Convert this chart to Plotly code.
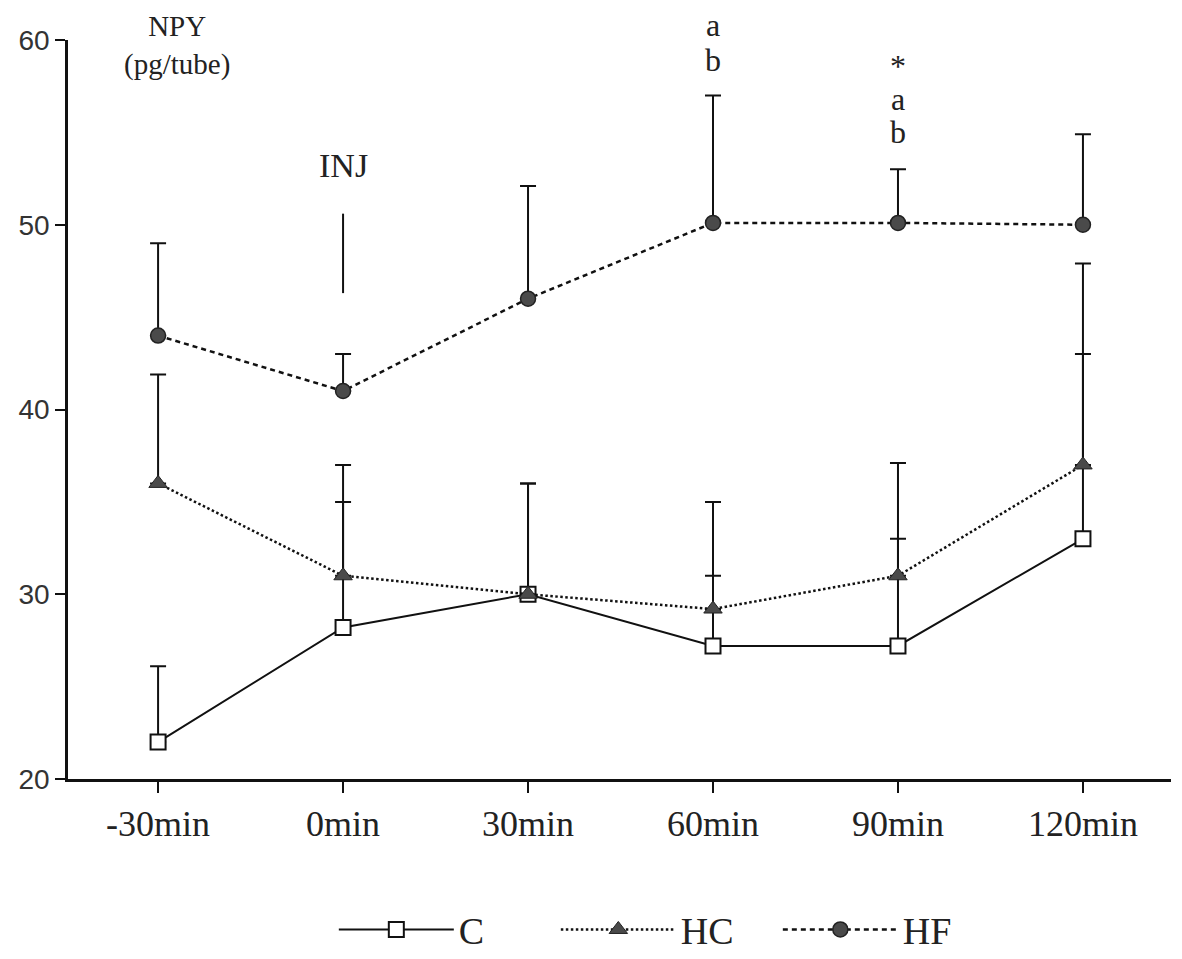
import plotly.graph_objects as go

# ---- data ----
times = ["-30min", "0min", "30min", "60min", "90min", "120min"]
c_vals = [22.0, 28.2, 30.0, 27.2, 27.2, 33.0]
c_upper = [26.1, 35.0, 36.0, 31.0, 33.0, 43.0]
hc_vals = [36.0, 31.0, 30.0, 29.2, 31.0, 37.0]
hc_upper = [41.9, 37.0, 36.0, 35.0, 37.1, 47.9]
hf_vals = [44.0, 41.0, 46.0, 50.1, 50.1, 50.0]
hf_upper = [49.0, 43.0, 52.1, 57.0, 53.0, 54.9]
y_ticks = [20, 30, 40, 50, 60]
sig_60 = ["a", "b"]
sig_90 = ["*", "a", "b"]
inj_time = "0min"
inj_range = [46.3, 50.6]

SERIF = "Liberation Serif, Times New Roman, serif"
SANS = "Liberation Sans, Arial, sans-serif"


def up_err(vals, upper):
    return [u - v for v, u in zip(vals, upper)]


fig = go.Figure()

fig.add_trace(go.Scatter(
    x=times, y=c_vals, name="C", mode="lines+markers",
    line=dict(color="#111", width=2, dash="solid"),
    marker=dict(symbol="square", size=15, color="white", line=dict(color="#111", width=2)),
    error_y=dict(type="data", symmetric=False, array=up_err(c_vals, c_upper),
                 arrayminus=[0] * 6, color="#111", thickness=2, width=8),
    cliponaxis=False,
))
fig.add_trace(go.Scatter(
    x=times, y=hc_vals, name="HC", mode="lines+markers",
    line=dict(color="#111", width=2.5, dash="2.5px,2.5px"),
    marker=dict(symbol="triangle-up", size=16, color="#4a4a4a", line=dict(color="#222", width=1)),
    error_y=dict(type="data", symmetric=False, array=up_err(hc_vals, hc_upper),
                 arrayminus=[0] * 6, color="#111", thickness=2, width=8),
    cliponaxis=False,
))
fig.add_trace(go.Scatter(
    x=times, y=hf_vals, name="HF", mode="lines+markers",
    line=dict(color="#111", width=2.5, dash="5px,4px"),
    marker=dict(symbol="circle", size=15, color="#4a4a4a", line=dict(color="#222", width=1.5)),
    error_y=dict(type="data", symmetric=False, array=up_err(hf_vals, hf_upper),
                 arrayminus=[0] * 6, color="#111", thickness=2, width=8),
    cliponaxis=False,
))

annotations = []
# y-axis title
annotations.append(dict(
    xref="paper", yref="paper", x=0.099, y=1.0433, yanchor="top", xanchor="center",
    text="NPY<br>(pg/tube)", showarrow=False, align="center",
    font=dict(family=SERIF, size=29, color="#222"),
))
# INJ label
annotations.append(dict(
    xref="x", yref="y", x=inj_time, y=inj_range[1] + 2.6, text="INJ", showarrow=False,
    font=dict(family=SERIF, size=34, color="#222"),
))
# significance letters (anchored inside range, shifted in pixels)
for i, t in enumerate(sig_60):
    annotations.append(dict(
        xref="x", yref="y", x="60min", y=58.9, yshift=35 * (len(sig_60) - 1 - i),
        text=t, showarrow=False,
        font=dict(family=SERIF, size=32, color="#222"),
    ))
for i, t in enumerate(sig_90):
    annotations.append(dict(
        xref="x", yref="y", x="90min", y=58.6 - 1.8 * i, text=t, showarrow=False,
        font=dict(family=SERIF, size=32, color="#222"),
    ))

fig.update_layout(
    width=1174, height=951,
    paper_bgcolor="white", plot_bgcolor="white",
    margin=dict(l=60, r=11, t=32, b=180, autoexpand=False),
    showlegend=True,
    legend=dict(
        orientation="h", x=0.241, xanchor="left", y=-0.204, yanchor="middle",
        font=dict(family=SERIF, size=38, color="#222"),
        entrywidth=92, entrywidthmode="pixels", itemwidth=115,
        bgcolor="rgba(0,0,0,0)",
    ),
    annotations=annotations,
    shapes=[dict(
        type="line", xref="x", yref="y", x0=inj_time, x1=inj_time,
        y0=inj_range[0], y1=inj_range[1], line=dict(color="#111", width=2),
    )],
    xaxis=dict(
        type="category", range=[-0.487, 5.476], showgrid=False, zeroline=False,
        showline=True, linecolor="#111", linewidth=2.5,
        ticks="outside", ticklen=11, tickwidth=1.5, tickcolor="#111",
        tickfont=dict(family=SERIF, size=36, color="#222"),
        categoryorder="array", categoryarray=times,
    ),
    yaxis=dict(
        range=[20, 60], tickvals=y_ticks, showgrid=False, zeroline=False,
        showline=True, linecolor="#111", linewidth=2.5,
        ticks="outside", ticklen=10, tickwidth=1.5, tickcolor="#111",
        tickfont=dict(family=SANS, size=28, color="#333"),
    ),
)

fig.write_html("out.html")
